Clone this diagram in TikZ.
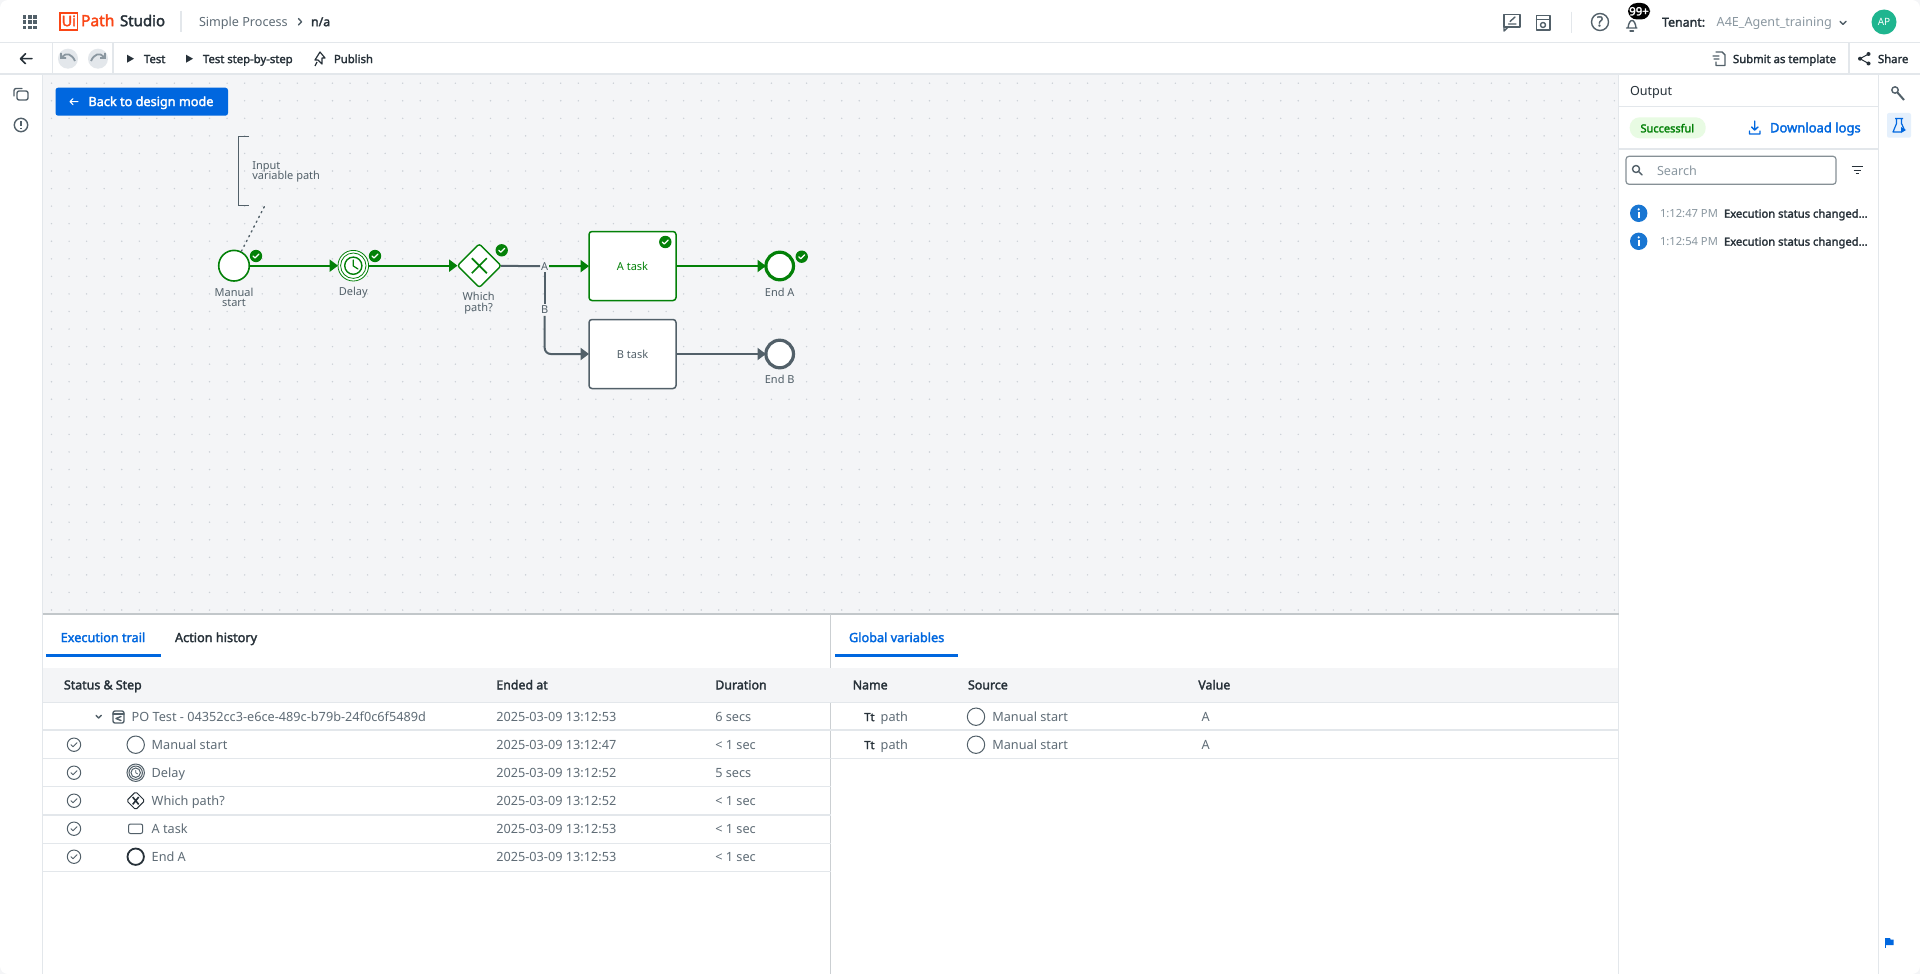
\documentclass[tikz,border=0pt]{standalone}
\usepackage{fontspec}
\setmainfont{Noto Sans}
\newfontfamily\med[FakeBold=2.2]{Noto Sans}
\usetikzlibrary{shapes.geometric,arrows.meta}
\definecolor{okg}{HTML}{038108}
\definecolor{flowg}{HTML}{526069}
\definecolor{canvasc}{HTML}{F4F5F7}
\definecolor{dotc}{HTML}{CBD0D6}
\definecolor{linec}{HTML}{E3E7EB}
\definecolor{dark}{HTML}{273139}
\definecolor{bodyc}{HTML}{5F6C76}
\definecolor{greyc}{HTML}{8A97A0}
\definecolor{blue}{HTML}{0067DF}
\definecolor{infoc}{HTML}{1976D2}
\definecolor{tealc}{HTML}{1FB58F}
\definecolor{orangec}{HTML}{FA4616}
\definecolor{pillc}{HTML}{E8FBE3}
\newcommand\fs[1]{\fontsize{#1}{#1}\selectfont}
\tikzset{
  x=0.5pt,y=-0.5pt,
  tl/.style={anchor=mid west,inner sep=0pt,outer sep=0pt,yshift=.5pt},
  tc/.style={anchor=mid,inner sep=0pt,outer sep=0pt,yshift=.5pt},
  body/.style={font=\fs{6.35},text=bodyc},
  med65/.style={font=\med\fs{6.2},text=dark},
  tool/.style={font=\med\fs{5.65},text=dark},
  bpmn/.style={font=\fs{5.5},text=flowg,align=center,inner sep=0pt,outer sep=0pt},
  rail/.style={draw=linec,line width=.6pt},
  iconl/.style={draw=flowg,line width=.7pt,fill=none,line cap=round,line join=round},
  flowgreen/.style={draw=okg,line width=1pt,-{Triangle[length=4.2pt,width=6pt]}},
  flowgrey/.style={draw=flowg,line width=1pt,-{Triangle[length=4.2pt,width=6pt]}},
  circnode/.style={circle,minimum size=15.3pt,inner sep=0pt,outer sep=0pt,fill=white},
  tasknode/.style={rectangle,rounded corners=1.5pt,minimum width=43.5pt,minimum height=34.5pt,inner sep=0pt,outer sep=0pt,fill=white,line width=.75pt,font=\fs{5.5}},
  okbadge/.pic={\fill[okg] (0,0) circle (6.2);
    \draw[white,line width=.6pt,line cap=round,line join=round] (-3,0) -- (-1,2) -- (3,-2);},
  rowcheck/.pic={\draw[flowg,line width=.5pt] (0,0) circle (6.7);
    \draw[flowg,line width=.5pt,line cap=round,line join=round] (-3,0) -- (-1,2) -- (3,-2);},
  stepcirc/.pic={\draw[flowg,line width=.5pt] (0,0) circle (8.7);},
  info/.pic={\fill[infoc] (0,0) circle (8.7);
    \fill[white] (-1,-1.5) rectangle (1,5); \fill[white] (0,-4) circle (1.2);},
  playicon/.pic={\fill[dark] (-3,-4) -- (4,0) -- (-3,4) -- cycle;},
}
\begin{document}
\begin{tikzpicture}
\path[use as bounding box,fill=canvasc] (0,0) rectangle (1920,974);
\fill[white,rounded corners=4pt] (0,0) rectangle (1920,974);
% canvas
\fill[canvasc] (42.7,74) rectangle (1618.7,614);
\foreach \ix in {0,...,89}{\foreach \iy in {0,...,30}{
  \fill[dotc] ({51.5+17.56*\ix},{83.2+17.56*\iy}) circle (.8);}}
% frame lines
\draw[rail] (0,42.5) -- (1920,42.5);
\draw[rail] (0,74) -- (1920,74);
\draw[rail] (42.7,74) -- (42.7,974);
\draw[rail] (1618.7,74) -- (1618.7,974);
\draw[rail] (1878.7,74) -- (1878.7,974);
\draw[rail] (52.6,42.5) -- (52.6,74);
\draw[rail] (113,42.5) -- (113,74);
\draw[rail] (1849,42.5) -- (1849,74);
\draw[draw=linec,line width=.6pt] (181,11) -- (181,32);
\draw[draw=linec,line width=.6pt] (1571.7,11.7) -- (1571.7,32.7);
\draw[draw=flowg!35,line width=.6pt] (42.7,614) -- (1618.7,614);
\draw[draw=flowg!30,line width=.5pt] (830.7,614) -- (830.7,974);
\draw[rail] (1618.7,106.7) -- (1878.7,106.7);
\draw[rail] (1618.7,149) -- (1878.7,149);
% header
\foreach \ix in {0,1,2}{\foreach \iy in {0,1,2}{
  \fill[flowg] ({22.7+5.3*\ix},{15+5.3*\iy}) rectangle ++(3.7,3.7);}}
\draw[orangec,line width=.9pt] (60,13) rectangle (77.5,30.4);
\node[tc,font=\med\fs{7.2},text=orangec] (logoui) at (68.8,21.8) {Ui};
\node[tl,font=\med\fs{7.8},text=orangec] (logopath) at (81,21.8) {Path};
\node[tl,font=\med\fs{7.5},text=dark] (studio) at (120,21.8) {Studio};
\node[tl,font=\fs{6.3},text=bodyc] (crumb) at (199,21.8) {Simple Process};
\draw[iconl] (298.5,18.5) -- (301.5,21.8) -- (298.5,25);
\node[tl,med65] (crumbb) at (311,21.8) {n/a};
\draw[iconl] (1504,14.5) rectangle (1520,27);
\draw[iconl] (1504,27) -- (1504,31) -- (1508,27);
\draw[iconl] (1508.5,24) -- (1516,24) (1510,21.5) -- (1515,17);
\draw[iconl] (1536.5,15.5) rectangle (1550,30);
\draw[iconl] (1536.5,19.5) -- (1550,19.5);
\draw[iconl] (1543,25) circle (2.5);
\draw[iconl] (1600,22) circle (8.5);
\node[tc,font=\med\fs{7},text=flowg] (helpq) at (1600,22) {?};
\draw[iconl] (1626.5,28) -- (1637,28) (1628,28) .. controls (1629,18) and (1635,18) .. (1636,28);
\draw[iconl] (1630,31) -- (1633.5,31);
\fill[black,rounded corners=4.5pt] (1628,3) rectangle (1650,19.5);
\node[tc,font=\med\fs{5.7},text=white] (bellbadge) at (1639,11) {99+};
\node[tl,med65] (tenant) at (1662,22.3) {Tenant:};
\node[tl,font=\fs{6.3},text=greyc] (tenantv) at (1716.7,22.3) {A4E\_Agent\_training};
\draw[iconl] (1840,21.3) -- (1843,24.3) -- (1846,21.3);
\node[circle,fill=tealc,minimum size=12.5pt,inner sep=0pt,font=\fs{5},text=white] (avatar) at (1884,22) {AP};
% toolbar
\draw[dark,line width=.75pt,line cap=round,line join=round] (20.5,58.7) -- (32,58.7) (25.5,53.7) -- (20.5,58.7) -- (25.5,63.7);
\fill[linec] (68,58.7) circle (10);
\fill[linec] (98,58.7) circle (10);
\draw[greyc,line width=.9pt] (62,57) .. controls (66,52) and (72,54) .. (75,61) (61,53) -- (61,58) -- (66,58);
\draw[greyc,line width=.9pt] (104,57) .. controls (100,52) and (94,54) .. (91,61) (105,53) -- (105,58) -- (100,58);
\pic at (130,58.7) {playicon};
\node[tl,tool] (test) at (144,58.7) {Test};
\pic at (189,58.7) {playicon};
\node[tl,tool] (teststep) at (203,58.7) {Test step-by-step};
\draw[dark,line width=.6pt,line join=round] (320,52) -- (325,58) -- (322,58) -- (322,64) -- (318,60) -- (315,60) -- cycle (317,62) -- (315,66);
\node[tl,tool] (publish) at (334,58.7) {Publish};
\draw[iconl] (1716,52) -- (1722,52) -- (1725,55) -- (1725,65.5) -- (1716,65.5) -- (1716,62) (1713,56) -- (1719,56) (1714,59) -- (1719,59);
\node[tl,tool] (submit) at (1733,58.7) {Submit as template};
\draw[dark,line width=.5pt] (1868.5,54) -- (1860,58.7) -- (1868.5,63.5);
\fill[dark] (1868.5,54) circle (2) (1860,58.7) circle (2) (1868.5,63.5) circle (2);
\node[tl,tool] (share) at (1878,58.7) {Share};
% left rail
\draw[iconl,rounded corners=1pt] (17,91) rectangle (28,100);
\draw[iconl,rounded corners=1pt] (14,96) -- (14,88.5) -- (22,88.5);
\draw[iconl] (21,125) circle (6.7);
\draw[flowg,line width=.8pt] (21,121.5) -- (21,125.5) (21,127.6) -- (21,128.8);
% back button
\fill[blue,rounded corners=1.3pt] (55.5,87.7) rectangle (228,115.7);
\draw[white,line width=.5pt,line cap=round,line join=round] (70,101.7) -- (78,101.7) (73,98.7) -- (70,101.7) -- (73,104.7);
\node[tl,font=\med\fs{6.35},text=white] (backbtn) at (88.5,101.7) {Back to design mode};
% BPMN annotation
\node[minimum width=5.2pt,minimum height=34.7pt,inner sep=0pt,outer sep=0pt] (ann) at (243.8,171) {};
\draw[draw=flowg,line width=.7pt] (ann.north east) -- (ann.north west) -- (ann.south west) -- (ann.south east);
\node[anchor=mid west,bpmn,align=left] (anntext) at (252.3,174.5) {Input\\[-.2pt]variable path};
\coordinate (annend) at (264.3,206.7);
% BPMN nodes
\node[circnode,draw=okg,line width=.8pt] (ms) at (234,265.7) {};
\node[circnode,draw=okg,line width=.4pt] (delay) at (353.3,265.7) {};
\draw[okg,line width=.4pt] (delay) circle (12.7);
\draw[okg,line width=.7pt] (delay) circle (8.6);
\draw[okg,line width=.6pt,line cap=round,line join=round] (353.3,260) -- (353.3,266) -- (358,269);
\node[diamond,aspect=1,rounded corners=1.2pt,minimum size=21.8pt,inner sep=0pt,outer sep=0pt,fill=white,draw=okg,line width=.7pt] (gw) at (479.3,265.7) {};
\draw[okg,line width=.85pt] (471.8,258.2) -- (486.8,273.2) (486.8,258.2) -- (471.8,273.2);
\node[tasknode,draw=okg,text=okg] (at) at (632.5,266) {A task};
\node[tasknode,draw=flowg,text=flowg] (bt) at (632.5,354) {B task};
\node[circnode,draw=okg,line width=1.6pt,minimum size=13.8pt] (ea) at (779.7,266) {};
\node[circnode,draw=flowg,line width=1.6pt,minimum size=13.8pt] (eb) at (779.7,354) {};
\node[bpmn] (msl) at (234,297.3) {Manual\\[-.2pt]start};
\node[bpmn] (delayl) at (353.3,292.5) {Delay};
\node[bpmn] (gwl) at (478.7,303.3) {Which\\[-.2pt]path?};
\node[bpmn] (eal) at (779.7,292.5) {End A};
\node[bpmn] (ebl) at (779.7,379.5) {End B};
\node[bpmn,fill=canvasc,inner xsep=.5pt,inner ysep=1pt] (la) at (544.7,266.2) {A};
\node[bpmn,fill=canvasc,inner xsep=.5pt,inner ysep=1pt] (lb) at (544.7,310) {B};
% BPMN connectors
\draw[draw=flowg,line width=.7pt,dotted,line cap=round] (annend) -- (ms);
\draw[flowgreen] (ms) -- (delay);
\draw[flowgreen] (delay) -- (gw);
\draw[draw=flowg,line width=1pt] (gw) -- (la);
\draw[flowgreen] (la) -- (at);
\draw[draw=flowg,line width=1pt] (la) -- (lb);
\draw[flowgrey,rounded corners=3pt] (lb.south) |- (bt.west);
\draw[flowgreen] (at) -- (ea);
\draw[flowgrey] (bt) -- (eb);
\pic at (256,256) {okbadge};
\pic at (375,256) {okbadge};
\pic at (501.7,250.3) {okbadge};
\pic at (665.3,242) {okbadge};
\pic at (801.7,256.7) {okbadge};
% bottom left tabs
\node[tl,font=\med\fs{6.35},text=blue] (tab1) at (60.7,637.7) {Execution trail};
\node[tl,font=\med\fs{6.35},text=dark] (tab2) at (175,637.7) {Action history};
\fill[blue] (46,653.5) rectangle (160.7,656.5);
\node[tl,font=\med\fs{6.35},text=blue] (tab3) at (849,637.7) {Global variables};
\fill[blue] (834.7,653.5) rectangle (958.3,656.5);
% table headers
\fill[canvasc] (43,667.7) rectangle (1618.4,702.3);
\draw[rail] (42.7,702.3) -- (1618.7,702.3);
\node[tl,med65] (h1) at (64,685) {Status \& Step};
\node[tl,med65] (h2) at (496.3,685) {Ended at};
\node[tl,med65] (h3) at (715.3,685) {Duration};
\node[tl,med65] (h4) at (852.7,685) {Name};
\node[tl,med65] (h5) at (968,685) {Source};
\node[tl,med65] (h6) at (1198.3,685) {Value};
% execution rows
\foreach \rowy/\rowline/\rowend/\rowdur/\rowid in {
  716.7/730/2025-03-09 13:12:53/6 secs/a,
  744.7/758.7/2025-03-09 13:12:47/{< 1 sec}/b,
  772.7/786.7/2025-03-09 13:12:52/5 secs/c,
  800.7/815/2025-03-09 13:12:52/{< 1 sec}/d,
  828.7/843.3/2025-03-09 13:12:53/{< 1 sec}/e,
  856.7/871.3/2025-03-09 13:12:53/{< 1 sec}/f}{
  \draw[rail] (42.7,\rowline) -- (830.7,\rowline);
  \node[tl,body] (end\rowid) at (496.3,\rowy) {\rowend};
  \node[tl,body] (dur\rowid) at (715.3,\rowy) {\rowdur};
}
\node[tl,body] (s1) at (131.7,716.7) {PO Test - 04352cc3-e6ce-489c-b79b-24f0c6f5489d};
\node[tl,body] (s2) at (151.7,744.7) {Manual start};
\node[tl,body] (s3) at (151.7,772.7) {Delay};
\node[tl,body] (s4) at (151.7,800.7) {Which path?};
\node[tl,body] (s5) at (151.7,828.7) {A task};
\node[tl,body] (s6) at (151.7,856.7) {End A};
\draw[iconl] (96,715.3) -- (98.7,718) -- (101.4,715.3);
\draw[iconl,rounded corners=1pt] (113,711) rectangle (124,723);
\draw[iconl] (113,714) -- (124,714);
\draw[iconl] (116,718.5) -- (121,716.5) (116,718.5) -- (121,720.5);
\foreach \ry in {744.7,772.7,800.7,828.7,856.7}{\pic at (74,\ry) {rowcheck};}
\pic at (135.7,744.7) {stepcirc};
\draw[flowg,line width=.5pt] (135.7,772.7) circle (8.7) circle (6.7) circle (4.7);
\draw[flowg,line width=.4pt] (135.7,770) -- (135.7,772.7) -- (137.7,774);
\draw[dark,line width=.5pt,rounded corners=.8pt] (135.7,791.7) -- (144.7,800.7) -- (135.7,809.7) -- (126.7,800.7) -- cycle;
\draw[dark,line width=.8pt] (132.7,797) -- (138.7,804.4) (138.7,797) -- (132.7,804.4);
\draw[flowg,line width=.5pt,rounded corners=1pt] (128.5,824) rectangle (142.7,833.5);
\draw[dark,line width=.9pt] (135.7,856.7) circle (8.2);
% variables
\foreach \ry/\rl/\rid in {716.7/730/a,744.7/758.7/b}{
  \draw[rail] (830.7,\rl) -- (1618.7,\rl);
  \node[tl,font=\med\fs{5.6},text=dark] (tt\rid) at (864.3,\ry) {Tt};
  \node[tl,body] (vn\rid) at (880.7,\ry) {path};
  \pic at (976,\ry) {stepcirc};
  \node[tl,body] (vs\rid) at (992.3,\ry) {Manual start};
  \node[tl,body] (vv\rid) at (1201.7,\ry) {A};
}
% output panel
\node[tl,font=\fs{6.3},text=dark] (output) at (1630,90.7) {Output};
\fill[pillc,rounded corners=5pt] (1629.7,117.3) rectangle (1705.7,138.3);
\node[tl,font=\med\fs{5.5},text=okg] (succ) at (1640.5,128) {Successful};
\draw[blue,line width=.7pt,line cap=round,line join=round] (1754.7,121) -- (1754.7,130) (1751.5,127) -- (1754.7,130) -- (1758,127) (1749.5,131) -- (1749.5,134) -- (1760,134) -- (1760,131);
\node[tl,font=\med\fs{6.5},text=blue] (dl) at (1770,128) {Download logs};
\draw[flowg!70,line width=.6pt,rounded corners=1.5pt,fill=white] (1626,156.3) rectangle (1836,184.3);
\draw[iconl] (1636,169) circle (3.5) (1638.5,171.5) -- (1642,175);
\node[tl,font=\fs{6.3},text=greyc] (search) at (1657,171) {Search};
\draw[dark,line width=.5pt] (1851.5,166.5) -- (1862.5,166.5) (1853.5,170) -- (1860.5,170) (1855.5,173.5) -- (1858.5,173.5);
\pic at (1638.7,213.3) {info};
\pic at (1638.7,241.3) {info};
\node[tl,font=\fs{5.6},text=greyc] (t1) at (1660,213.3) {1:12:47 PM};
\node[tl,font=\med\fs{5.6},text=dark] (m1) at (1724,213.3) {Execution status changed...};
\node[tl,font=\fs{5.6},text=greyc] (t2) at (1660,241.3) {1:12:54 PM};
\node[tl,font=\med\fs{5.6},text=dark] (m2) at (1724,241.3) {Execution status changed...};
% right rail
\draw[flowg,line width=1pt] (1897,92) -- (1904,100);
\draw[iconl] (1895,90) circle (3.2);
\fill[blue!10,rounded corners=1pt] (1887,113) rectangle (1911,137.7);
\draw[blue,line width=.6pt,line join=round] (1896.5,118.5) -- (1896.5,123.5) -- (1893,132) -- (1901,132) (1901.5,123.5) -- (1901.5,118.5) (1895,118.5) -- (1903,118.5) (1901.5,123.5) -- (1904,129);
\fill[blue] (1901,127) -- (1906,130) -- (1901,133) -- cycle;
\fill[blue] (1884.5,938) rectangle (1886,948);
\fill[blue] (1885,938) -- (1890,938) -- (1890.5,939.5) -- (1893.5,939.5) -- (1893.5,945) -- (1885,945) -- cycle;
\end{tikzpicture}
\end{document}
